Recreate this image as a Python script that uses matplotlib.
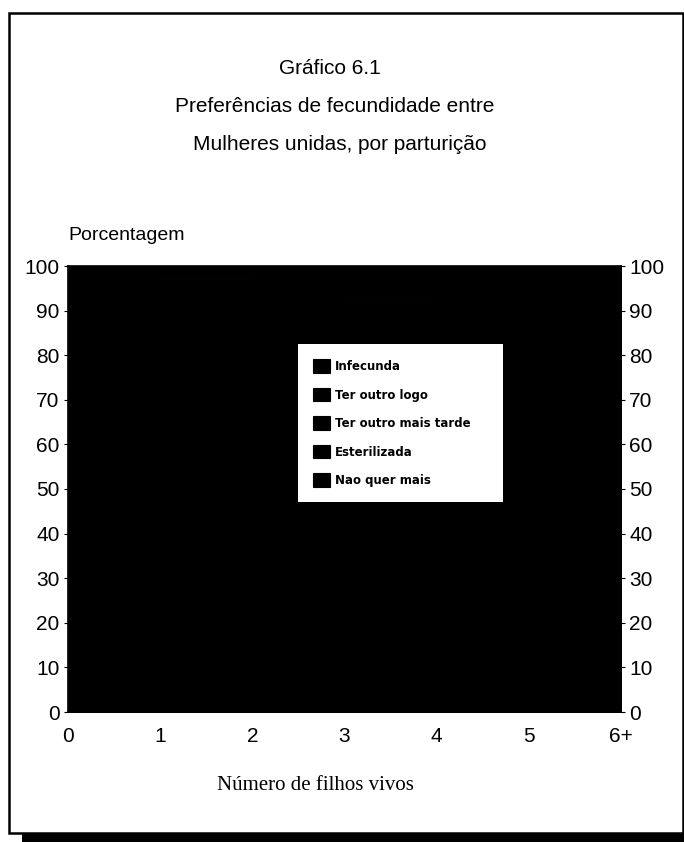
import matplotlib
matplotlib.use("Agg")
import matplotlib.pyplot as plt
from matplotlib.patches import Rectangle

plt.rcParams['font.family'] = ['Liberation Sans', 'DejaVu Sans']

# parity (numero de filhos vivos)
parity = [0, 1, 2, 3, 4, 5, 6]
parity_labels = ['0', '1', '2', '3', '4', '5', '6+']

# percentages per preference (estimated, the scan is solid black)
infecunda = [10, 3, 3, 4, 5, 7, 10]
ter_logo = [55, 20, 6, 4, 3, 3, 2]
ter_tarde = [25, 45, 15, 7, 5, 4, 3]
esterilizada = [0, 6, 35, 48, 45, 42, 35]
nao_quer = [10, 26, 41, 37, 42, 44, 50]

series_labels = ['Infecunda', 'Ter outro logo', 'Ter outro mais tarde',
                 'Esterilizada', 'Nao quer mais']
yticks = [0, 10, 20, 30, 40, 50, 60, 70, 80, 90, 100]

W, H = 684, 842
fig = plt.figure(figsize=(W / 100, H / 100), dpi=100)
ax = fig.add_axes([68 / W, (H - 712) / H, 553 / W, 446 / H])

# stacked areas, everything printed black in the original
polys = ax.stackplot(parity, nao_quer, esterilizada, ter_tarde, ter_logo,
                     infecunda, colors=['black'] * 5,
                     labels=series_labels[::-1])
for p in polys:
    p.set_edgecolor('black')
    p.set_linewidth(0.8)

ax.set_xlim(0, 6)
ax.set_ylim(0, 100)
ax.set_xticks(parity)
ax.set_xticklabels(parity_labels, fontsize=15)
ax.set_yticks(yticks)
ax.set_yticklabels([str(v) for v in yticks], fontsize=15)
ax.tick_params(axis='y', left=True, right=True, labelleft=True,
               labelright=True, length=3, pad=3)
ax.tick_params(axis='x', length=0, pad=11)
for s in ax.spines.values():
    s.set_linewidth(1.2)

# white legend box inside the plot area
leg_top = 368 / 446
leg_bot = 208 / 446
handles, labels = ax.get_legend_handles_labels()
leg = ax.legend(handles[::-1], labels[::-1], loc='upper left',
                bbox_to_anchor=(230 / 553, leg_bot, 205 / 553, leg_top - leg_bot),
                mode='expand', frameon=True, fancybox=False,
                facecolor='white', framealpha=1,
                prop={'family': 'DejaVu Sans', 'weight': 'bold', 'size': 8.5},
                handlelength=1.4, handleheight=1.4, handletextpad=0.4,
                labelspacing=1.25, borderpad=1.3, borderaxespad=0)
leg.get_frame().set_linewidth(0)

fig.text(330 / W, 1 - 68 / H, 'Gráfico 6.1', ha='center', va='center',
         fontsize=15)
fig.text(335 / W, 1 - 106 / H, 'Preferências de fecundidade entre',
         ha='center', va='center', fontsize=15)
fig.text(340 / W, 1 - 145 / H, 'Mulheres unidas, por parturição',
         ha='center', va='center', fontsize=15)
fig.text(68 / W, 1 - 236 / H, 'Porcentagem', ha='left', va='center',
         fontsize=14)
fig.text(315 / W, 1 - 785 / H, 'Número de filhos vivos', ha='center',
         va='center', fontsize=15, family=['Liberation Serif', 'DejaVu Serif'])

# page frame with heavy bottom bar
fig.add_artist(Rectangle((9 / W, (H - 833) / H), 674 / W, 820 / H,
                         transform=fig.transFigure, fill=False,
                         edgecolor='black', linewidth=1.8))
fig.add_artist(Rectangle((22 / W, 0), (W - 22) / W, 9 / H,
                         transform=fig.transFigure, facecolor='black',
                         edgecolor='none'))

fig.savefig('out.png', dpi=100)
